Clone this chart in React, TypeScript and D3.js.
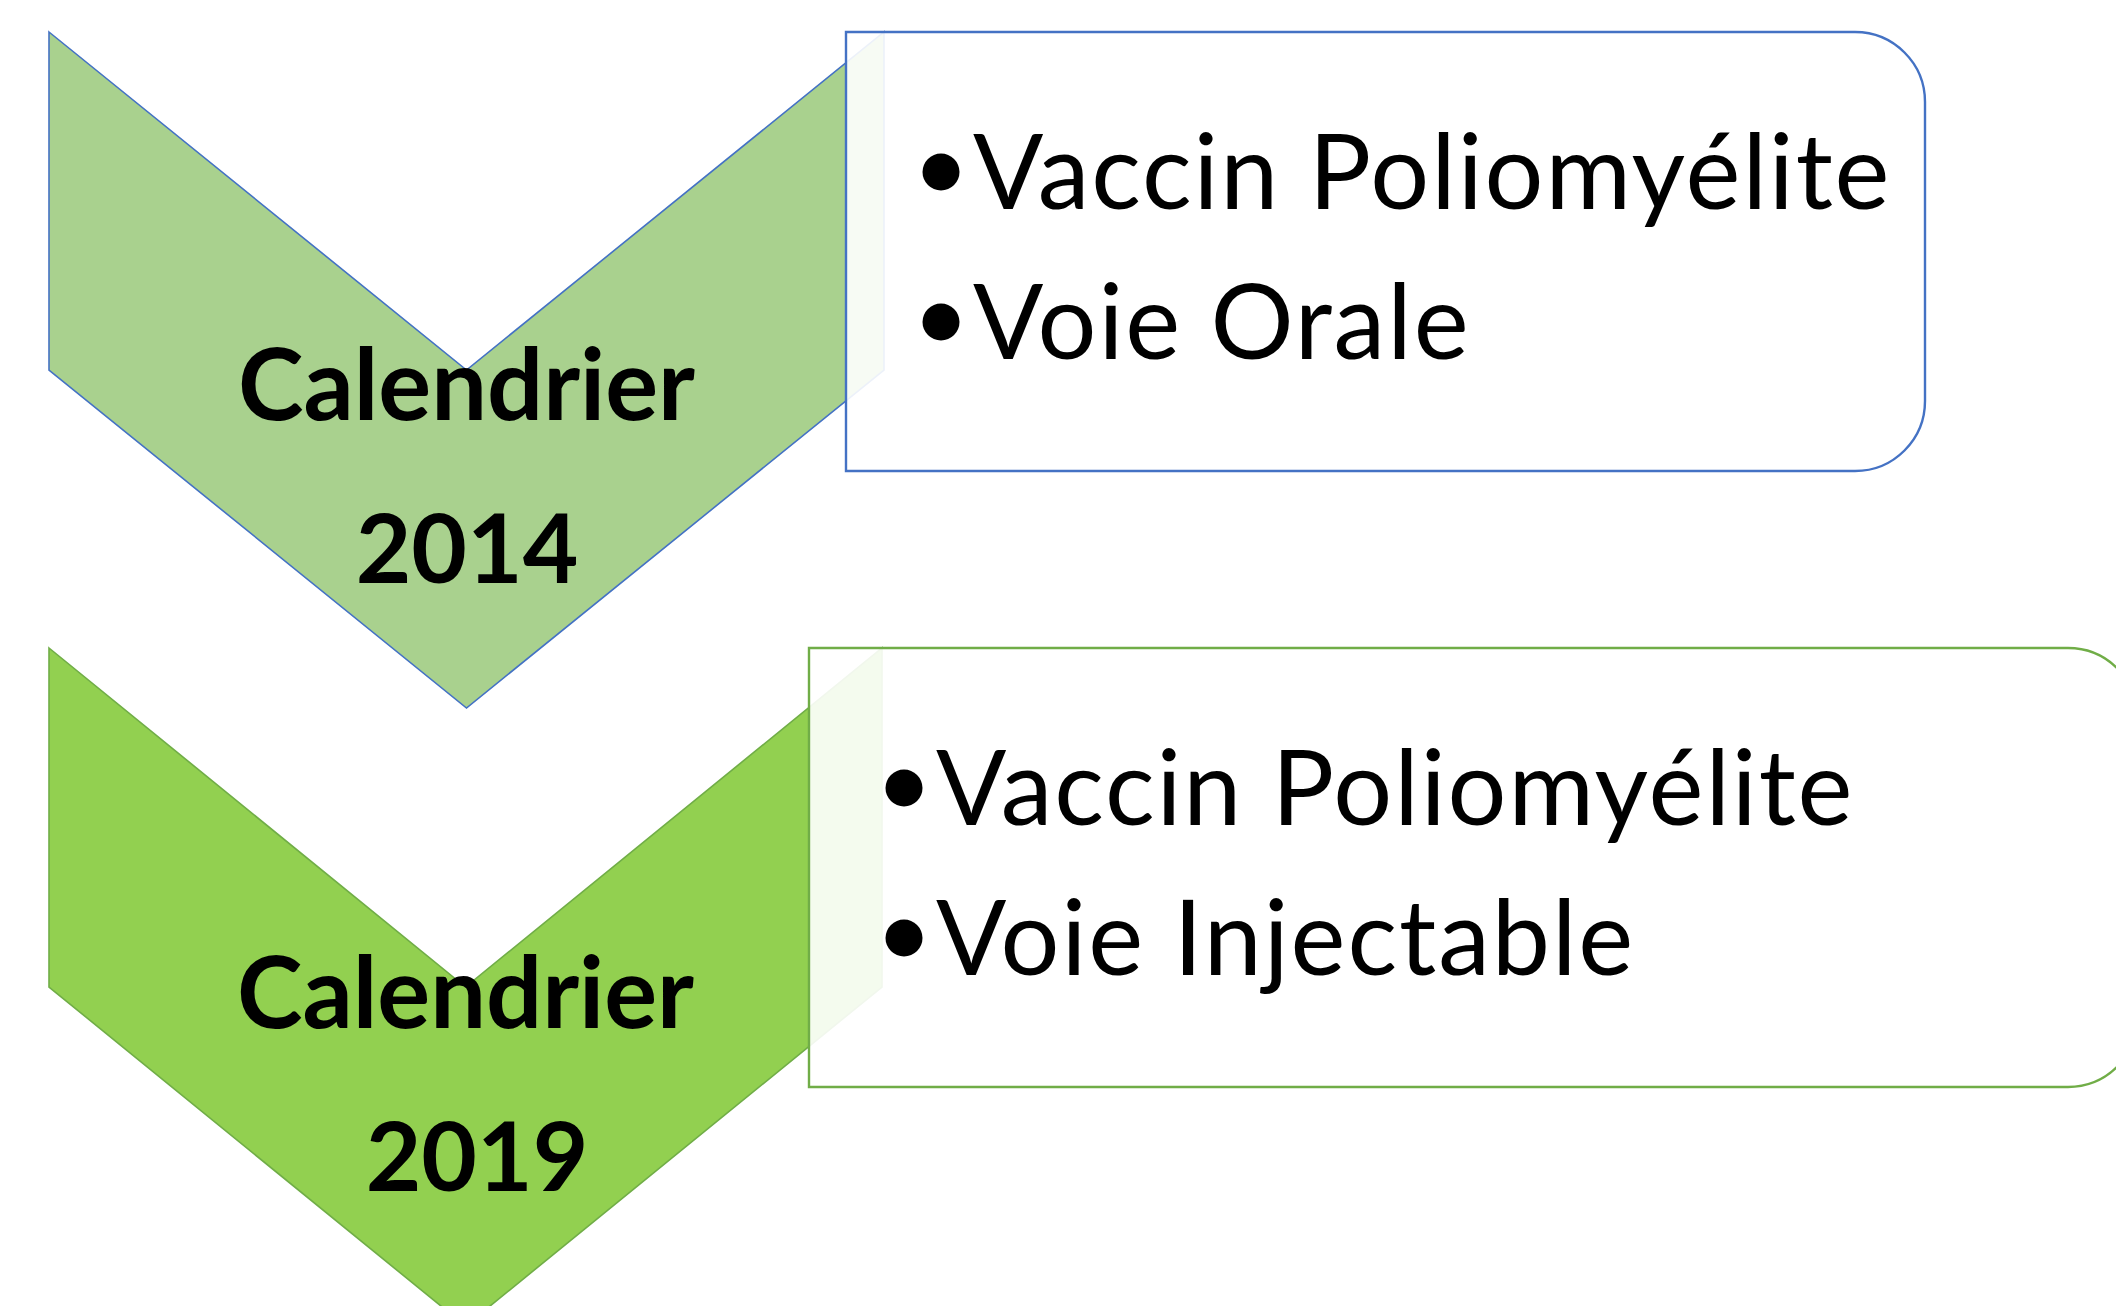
import * as d3 from 'd3';

// stages of the vaccination calendar
const stageTitles = ['Calendrier', 'Calendrier'];
const stageYears = ['2014', '2019'];
const stageItems = [
  ['Vaccin Poliomyélite', 'Voie Orale'],
  ['Vaccin Poliomyélite', 'Voie Injectable'],
];

const chevronFills = ['#A9D18E', '#92D050'];
const outlineColors = ['#4472C4', '#70AD47'];

const W = 2116;
const H = 1306;

// layout (measured from the slide)
const rowTop = d3.scaleOrdinal<number, number>().domain([0, 1]).range([32, 648]);
const chevronLeft = [49, 49];
const chevronRight = [884, 882];
const chevronDepth = [338, 339];
const titleBaseline = [420, 1028];
const yearBaseline = [583, 1191];
const yearCenter = [467, 477];
const boxLeft = [846, 809];
const boxRight = [1925, 2138];
const boxHeight = [439, 439];
const boxRadius = 70;

const FONT = 'Lato, "Open Sans", sans-serif';

function chevronPath(i: number) {
  const top = rowTop(i);
  const x0 = chevronLeft[i];
  const x1 = chevronRight[i];
  const xm = (x0 + x1) / 2;
  const d = chevronDepth[i];
  const pts: [number, number][] = [
    [x0, top],
    [xm, top + d],
    [x1, top],
    [x1, top + d],
    [xm, top + 2 * d],
    [x0, top + d],
  ];
  return d3.line()(pts) + 'Z';
}

function boxPath(i: number) {
  const top = rowTop(i);
  const x0 = boxLeft[i];
  const x1 = boxRight[i];
  const h = boxHeight[i];
  const r = boxRadius;
  const p = d3.path();
  p.moveTo(x0, top);
  p.lineTo(x1 - r, top);
  p.arcTo(x1, top, x1, top + r, r);
  p.lineTo(x1, top + h - r);
  p.arcTo(x1, top + h, x1 - r, top + h, r);
  p.lineTo(x0, top + h);
  p.closePath();
  return p.toString();
}

export default function App() {
  const rows = d3.range(stageTitles.length);
  return (
    <svg
      width={W}
      height={H}
      viewBox={`0 0 ${W} ${H}`}
      style={{ position: 'absolute', left: 0, top: 0, background: '#fff' }}
    >
      {rows.map((i) => (
        <g key={i}>
          <path d={chevronPath(i)} fill={chevronFills[i]} stroke={outlineColors[i]} strokeWidth={1.6} />
          <text
            x={(chevronLeft[i] + chevronRight[i]) / 2}
            y={titleBaseline[i]}
            textAnchor="middle"
            fontFamily={FONT}
            fontWeight="bold"
            fontSize={99}
            fill="#000"
          >
            {stageTitles[i]}
          </text>
          <text
            x={yearCenter[i]}
            y={yearBaseline[i]}
            textAnchor="middle"
            fontFamily={FONT}
            fontWeight="bold"
            fontSize={96}
            fill="#000"
          >
            {stageYears[i]}
          </text>
          <path d={boxPath(i)} fill="#fff" fillOpacity={0.9} stroke={outlineColors[i]} strokeWidth={2.4} />
          {stageItems[i].map((item, j) => {
            const base = rowTop(i) + 177 + j * 150;
            return (
              <g key={j}>
                <circle cx={boxLeft[i] + 95} cy={base - 37} r={18.5} fill="#000" />
                <text
                  x={boxLeft[i] + 127}
                  y={base}
                  fontFamily={FONT}
                  fontSize={104}
                  letterSpacing={1.9}
                  fill="#000"
                >
                  {item}
                </text>
              </g>
            );
          })}
        </g>
      ))}
    </svg>
  );
}
